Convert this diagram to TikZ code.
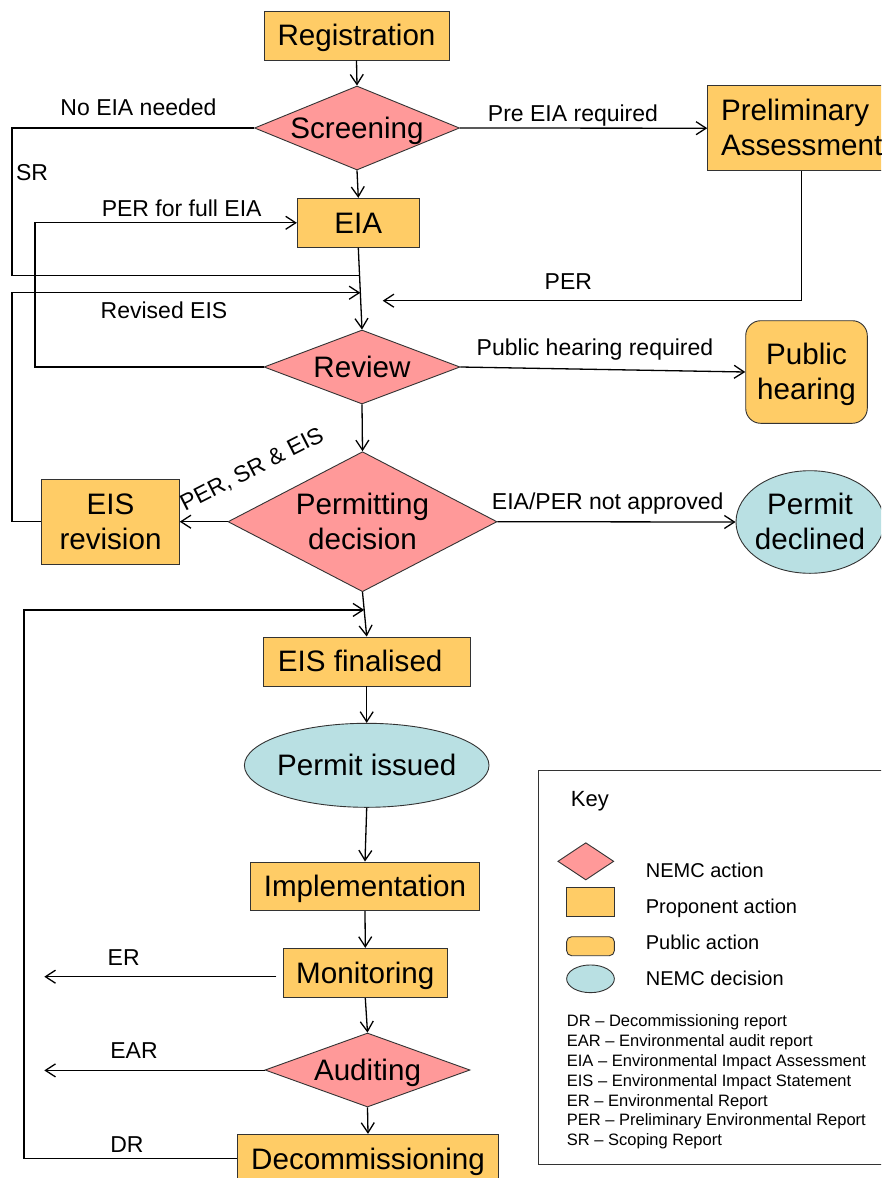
\documentclass[tikz,border=0pt]{standalone}
\usepackage{fontspec}
\setmainfont{Liberation Sans}
\usetikzlibrary{shapes.geometric,arrows.meta,calc}

\definecolor{propfill}{HTML}{FFCC66}
\definecolor{nemcfill}{HTML}{FF9999}
\definecolor{decfill}{HTML}{B9E0E3}
\definecolor{edgegray}{HTML}{333333}

% line box of the sans font, so every text sits on the same baseline
\newcommand\pstrut{\rule[-0.212em]{0pt}{1.117em}}
% zero-width centred text, so the outline size comes from the given minimum sizes
\newcommand\ctext[1]{\makebox[0pt]{\pstrut#1}}

\tikzset{
  nodebase/.style={font=\fontsize{29.6}{35}\selectfont, inner sep=0pt, draw=edgegray,
                   line width=0.9pt, align=center},
  prop/.style={nodebase, rectangle, fill=propfill},
  pub/.style={nodebase, rectangle, rounded corners=15pt, fill=propfill},
  nemc/.style={nodebase, diamond, fill=nemcfill},
  decide/.style={nodebase, ellipse, fill=decfill},
  lbl/.style={font=\fontsize{23}{27}\selectfont, inner sep=0pt, anchor=base},
  keytxt/.style={font=\fontsize{20}{24}\selectfont, inner sep=0pt, anchor=base west},
  abbr/.style={font=\fontsize{16.5}{19.8}\selectfont, inner sep=0pt, anchor=base west},
  conn/.style={line width=1.3pt, draw=black},
  arr/.style={conn, -{Straight Barb[length=10pt,width=13pt]}},
}

\begin{document}
\begin{tikzpicture}[x=1pt, y=-1pt]
\useasboundingbox (0,0) rectangle (881,1178);
\clip (0,0) rectangle (881,1178);
\fill[white] (0,0) rectangle (881,1178);

% ---- process steps ----
\node[prop, minimum width=185, minimum height=49] (reg) at (356.5,35.5) {\ctext{Registration}};
\node[nemc, minimum width=205, minimum height=84, aspect=2.44] (scr) at (357,128) {\ctext{Screening}};
\node[prop, minimum width=188, minimum height=85, align=left] (pa) at (801.7,128.2)
  {\pstrut Preliminary\\\pstrut Assessment};
\node[prop, minimum width=122, minimum height=49] (eia) at (358.3,222.8) {\ctext{EIA}};
\node[nemc, minimum width=196, minimum height=74, aspect=2.65] (rev) at (362,367) {\ctext{Review}};
\node[pub, minimum width=121.6, minimum height=102.6] (ph) at (806.5,372)
  {\ctext{Public}\\\ctext{hearing}};
\node[nemc, minimum width=269, minimum height=140, aspect=1.92] (perm) at (362.5,521.7)
  {\ctext{Permitting}\\\ctext{decision}};
\node[prop, minimum width=137.6, minimum height=84.7] (eisrev) at (110.5,521.7)
  {\ctext{EIS}\\\ctext{revision}};
\node[decide, minimum width=148, minimum height=102.6] (decl) at (810,522)
  {\ctext{Permit}\\\ctext{declined}};
\node[prop, minimum width=206.7, minimum height=49] (fin) at (366.7,661.5)
  {\ctext{EIS finalised\hspace{13pt}}};
\node[decide, minimum width=244.6, minimum height=84] (iss) at (366.7,765.3) {\ctext{Permit issued}};
\node[prop, minimum width=228.7, minimum height=48.7] (impl) at (365,886.3) {\ctext{Implementation}};
\node[prop, minimum width=164, minimum height=49.4] (mon) at (365.3,973) {\ctext{Monitoring}};
\node[nemc, minimum width=205, minimum height=74, aspect=2.77] (aud) at (367.5,1070) {\ctext{Auditing}};
\node[prop, minimum width=260.6, minimum height=49] (dec) at (368,1158.8) {\ctext{Decommissioning}};

% ---- rails and junctions ----
\coordinate (railA) at (12,0);
\coordinate (railB) at (35,0);
\coordinate (railC) at (24,0);
\coordinate (j1) at ($(eia.south)!0.337!(rev.north)$);
\coordinate (j2) at ($(eia.south)!0.55!(rev.north)$);
\coordinate (j3) at (382.7,300.7);
\coordinate (j4) at ($(perm.south)!0.4!(fin.north)$);
\coordinate (erEnd) at (44.3,976.7);
\coordinate (earEnd) at (44.3,1070.4);

% ---- main flow ----
\draw[arr] (reg.south) -- (scr.north);
\draw[arr] (scr.south) -- (eia.north);
\draw[arr] (eia.south) -- (rev.north);
\draw[arr] (rev.south) -- (perm.north);
\draw[arr] (perm.south) -- (fin.north);
\draw[arr] (fin.south) -- (iss.north);
\draw[arr] (iss.south) -- (impl.north);
\draw[arr] (impl.south) -- (mon.north);
\draw[arr] (mon.south) -- (aud.north);
\draw[arr] (aud.south) -- (dec.north);

% ---- branches ----
\draw[arr] (scr.east) -- (pa.west);
\draw[conn] (scr.west) -- (scr.west -| railA) |- (j1);
\draw[arr] (pa.south) |- (j3);
\draw[arr] (rev.west) -- (rev.west -| railB) |- (eia.west);
\draw[arr] (rev.east) -- (ph.west);
\draw[arr] (perm.west) -- (eisrev.east);
\draw[arr] (eisrev.west) -- (eisrev.west -| railA) |- (j2);
\draw[arr] (perm.east) -- (decl.west);
\draw[arr] (dec.west) -- (dec.west -| railC) |- (j4);
\draw[arr] ([shift={(-6.6,3.7)}]mon.west) -- (erEnd);
\draw[arr] ([yshift=-0.4pt]aud.west) -- (earEnd);

% ---- connector labels ----
\node[lbl] (lNoEIA) at (138.5,115) {No EIA needed};
\node[lbl] (lSR) at (32,180) {SR};
\node[lbl] (lPERfull) at (181.7,216) {PER for full EIA};
\node[lbl] (lRevised) at (164,318.3) {Revised EIS};
\node[lbl] (lPre) at (573,121.7) {Pre EIA required};
\node[lbl] (lPER) at (568.3,289.3) {PER};
\node[lbl] (lPublic) at (595,355.7) {Public hearing required};
\node[lbl, anchor=base west, rotate=27] (lPSE) at (185,511.5) {PER, SR \& EIS};
\node[lbl] (lNot) at (607.7,509) {EIA/PER not approved};
\node[lbl] (lER) at (123.7,965.7) {ER};
\node[lbl] (lEAR) at (134,1058.3) {EAR};
\node[lbl] (lDR) at (127,1152.3) {DR};

% ---- key ----
\draw[draw=edgegray, line width=0.9pt] (538.3,770.7) rectangle (900,1164);
\node[keytxt, font=\fontsize{22}{26}\selectfont] (keyTitle) at (570.7,806.7) {Key};
\node[nemc, minimum width=56, minimum height=37.3] (kNemc) at (585.8,861.3) {};
\node[prop, minimum width=47.7, minimum height=29.4] (kProp) at (590.5,902) {};
\node[pub, rounded corners=5pt, minimum width=47.7, minimum height=19] (kPub) at (590.5,946.2) {};
\node[decide, minimum width=47.7, minimum height=27.7] (kDec) at (590.5,978.8) {};
\node[keytxt] (tNemc) at (645.7,877.3) {NEMC action};
\node[keytxt] (tProp) at (645.7,913.3) {Proponent action};
\node[keytxt] (tPub) at (645.7,949.3) {Public action};
\node[keytxt] (tDec) at (645.7,985.7) {NEMC decision};

\foreach \txt [count=\i from 0] in {
  DR – Decommissioning report,
  EAR – Environmental audit report,
  EIA – Environmental Impact Assessment,
  EIS – Environmental Impact Statement,
  ER – Environmental Report,
  PER – Preliminary Environmental Report,
  SR – Scoping Report}
  \node[abbr] (ab\i) at (566.7,1026.7+19.83*\i) {\txt};
\end{tikzpicture}
\end{document}
